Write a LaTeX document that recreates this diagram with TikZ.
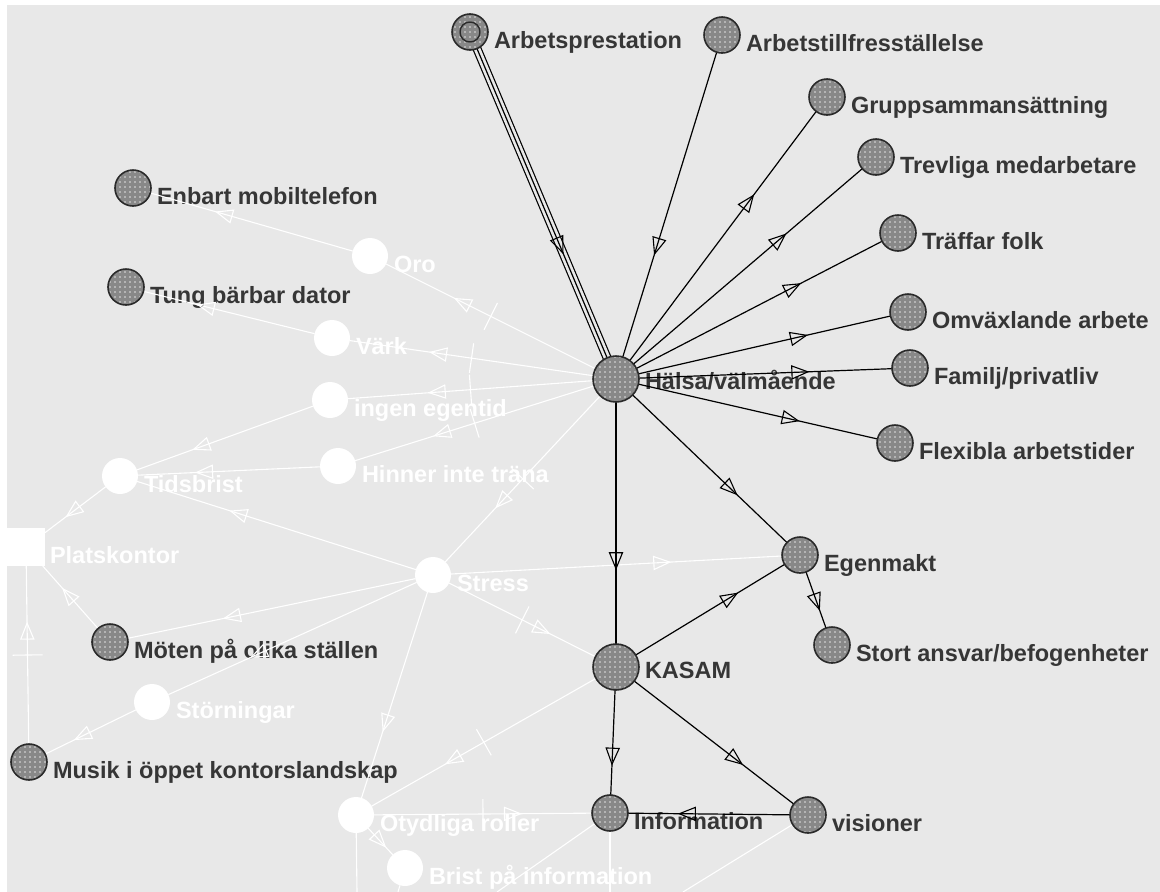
\documentclass[tikz,border=0pt]{standalone}
\usepackage{fontspec}
\setmainfont{Liberation Sans}
\usetikzlibrary{decorations.markings,patterns.meta,calc}
\definecolor{bgc}{HTML}{E8E8E8}
\definecolor{nfill}{HTML}{888888}
\definecolor{ndot}{HTML}{E2E2E2}
\definecolor{nbord}{HTML}{2A2A2A}
\definecolor{tdark}{HTML}{363636}
\pgfdeclarelayer{bglayer}
\pgfdeclarelayer{txtlayer}
\pgfdeclarelayer{edgelayer}
\pgfsetlayers{bglayer,txtlayer,edgelayer,main}
\newcommand\lblfont{\fontsize{23.5}{26}\selectfont\bfseries}
\tikzset{
  dnode/.style={circle, inner sep=0pt, outer sep=0pt, draw=nbord, line width=1.6pt,
    preaction={fill=nfill}, pattern={Dots[distance=5pt, radius=0.8pt]}, pattern color=ndot},
  wnode/.style={circle, inner sep=0pt, outer sep=0pt, fill=white, minimum size=36pt},
  wsquare/.style={rectangle, inner sep=0pt, outer sep=0pt, fill=white, minimum size=38pt},
  dtext/.style={anchor=base west, inner sep=0pt, outer sep=0pt, text=tdark, font=\lblfont},
  wtext/.style={anchor=base west, inner sep=0pt, outer sep=0pt, text=white, font=\lblfont},
  bedge/.style={draw=black, line width=1.2pt},
  wedge/.style={draw=white, line width=1.1pt},
  triple/.style={draw=black, line width=9pt, postaction={draw=bgc, line width=6.6pt},
    postaction={draw=black, line width=1.2pt}},
  barr/.style={postaction={decorate, decoration={markings, mark=at position #1 with
    {\draw[black, line width=1.1pt] (7pt,0pt) -- (-9pt,6.5pt) -- (-9pt,-6.5pt) -- cycle;}}}},
  barr/.default=0.64,
  warr/.style={postaction={decorate, decoration={markings, mark=at position #1 with
    {\draw[white, line width=1.1pt] (7pt,0pt) -- (-9pt,6.5pt) -- (-9pt,-6.5pt) -- cycle;}}}},
  warr/.default=0.64,
  wtk/.style={postaction={decorate, decoration={markings, mark=at position #1 with
    {\draw[white, line width=1.1pt] (0pt,-15pt) -- (0pt,15pt);}}}},
  wtk/.default=0.5,
}
% name, x, y, radius, text, baseline offset
\newcommand\mkdark[6]{%
  \node[dnode, minimum size={2*#4}] (#1) at (#2,#3) {};
  \begin{pgfonlayer}{txtlayer}
    \node[dtext] (#1-t) at ([xshift={#4+6}, yshift={-#6}]#1.center) {#5};
  \end{pgfonlayer}}
% name, x, y, text
\newcommand\mkwhite[4]{%
  \node[wnode] (#1) at (#2,#3) {};
  \begin{pgfonlayer}{txtlayer}
    \node[wtext] (#1-t) at ([xshift=24, yshift=-16.5]#1.center) {#4};
  \end{pgfonlayer}}
\begin{document}
\begin{tikzpicture}[x=1pt, y=-1pt]
\useasboundingbox (0,0) rectangle (1160,892);
\begin{pgfonlayer}{bglayer}
  \fill[white] (0,0) rectangle (1160,892);
  \fill[bgc] (7,5) rectangle (1160,892);
\end{pgfonlayer}

% dark nodes
\mkdark{arbp}{470}{32}{18}{Arbetsprestation}{16.5}
\mkdark{arbt}{722}{35}{18}{Arbetstillfresställelse}{16.5}
\mkdark{grupp}{827}{97}{18}{Gruppsammansättning}{16.5}
\mkdark{trev}{876}{157}{18}{Trevliga medarbetare}{16.5}
\mkdark{traff}{898}{233}{18}{Träffar folk}{16.5}
\mkdark{omv}{908}{312}{18}{Omväxlande arbete}{16.5}
\mkdark{fam}{910}{368}{18}{Familj/privatliv}{16.5}
\mkdark{flex}{895}{443}{18}{Flexibla arbetstider}{16.5}
\mkdark{halsa}{616}{379}{23}{Hälsa/välmående}{10.5}
\mkdark{egen}{800}{555}{18}{Egenmakt}{16.5}
\mkdark{stort}{832}{645}{18}{Stort ansvar/befogenheter}{16.5}
\mkdark{kasam}{616}{667}{23}{KASAM}{11.5}
\mkdark{info}{610}{813}{18}{Information}{16.5}
\mkdark{vis}{808}{815}{18}{visioner}{16.5}
\mkdark{enbart}{133}{188}{18}{Enbart mobiltelefon}{16}
\mkdark{tung}{126}{287}{18}{Tung bärbar dator}{16}
\mkdark{moten}{110}{642}{18}{Möten på olika ställen}{16.5}
\mkdark{musik}{29}{762}{18}{Musik i öppet kontorslandskap}{16.5}
\draw[nbord, line width=1.4pt] (arbp.center) circle[radius=10pt];

% white nodes
\mkwhite{oro}{370}{256}{Oro}
\mkwhite{vark}{332}{338}{Värk}
\mkwhite{ingen}{330}{400}{ingen egentid}
\mkwhite{hinner}{338}{466}{Hinner inte träna}
\mkwhite{tids}{120}{476}{Tidsbrist}
\mkwhite{stress}{433}{575}{Stress}
\mkwhite{storn}{152}{702}{Störningar}
\mkwhite{otyd}{356}{815}{Otydliga roller}
\mkwhite{brist}{405}{868}{Brist på information}
\node[wsquare] (plats) at (26,547) {};
\begin{pgfonlayer}{txtlayer}
  \node[wtext] (plats-t) at (50,563) {Platskontor};
\end{pgfonlayer}

\coordinate (c1) at (357,892);
\coordinate (c2) at (398,892);
\coordinate (c3) at (610,892);
\coordinate (c4) at (497,892);
\coordinate (c5) at (683,892);

\begin{pgfonlayer}{edgelayer}
  % white connectors
  \draw[wedge, warr] (oro) -- (enbart);
  \draw[wedge, warr] (vark) -- (tung);
  \draw[wedge, warr, wtk] (halsa) -- (oro);
  \draw[wedge, warr, wtk] (halsa) -- (vark);
  \draw[wedge, warr, wtk] (halsa) -- (ingen);
  \draw[wedge, warr, wtk] (halsa) -- (hinner);
  \draw[wedge, warr, wtk] (halsa) -- (stress);
  \draw[wedge, warr] (ingen) -- (tids);
  \draw[wedge, warr] (hinner) -- (tids);
  \draw[wedge, warr] (stress) -- (tids);
  \draw[wedge, warr=0.55] (tids) -- (plats);
  \draw[wedge, warr=0.55] (moten) -- (plats);
  \draw[wedge, warr, wtk] (musik) -- (plats);
  \draw[wedge, warr] (stress) -- (moten);
  \draw[wedge, warr] (stress) -- (storn);
  \draw[wedge, warr=0.6] (storn) -- (musik);
  \draw[wedge, warr, wtk] (stress) -- (kasam);
  \draw[wedge, warr] (stress) -- (egen);
  \draw[wedge, warr, wtk] (kasam) -- (otyd);
  \draw[wedge, warr, wtk] (otyd) -- (info);
  \draw[wedge, warr] (stress) -- (otyd);
  \draw[wedge, warr=0.5] (otyd) -- (brist);
  \draw[wedge] (otyd) -- (c1);
  \draw[wedge] (brist) -- (c2);
  \draw[wedge] (info) -- (c3);
  \draw[wedge] (info) -- (c4);
  \draw[wedge] (vis) -- (c5);
  % dark connectors
  \draw[triple, barr] (arbp) -- (halsa);
  \draw[bedge, barr] (arbt) -- (halsa);
  \draw[bedge, barr] (halsa) -- (grupp);
  \draw[bedge, barr] (halsa) -- (trev);
  \draw[bedge, barr] (halsa) -- (traff);
  \draw[bedge, barr] (halsa) -- (omv);
  \draw[bedge, barr] (halsa) -- (fam);
  \draw[bedge, barr] (halsa) -- (flex);
  \draw[bedge, barr] (halsa) -- (egen);
  \draw[bedge, barr=0.66] (halsa) -- (kasam);
  \draw[bedge, barr] (kasam) -- (egen);
  \draw[bedge, barr=0.55] (egen) -- (stort);
  \draw[bedge, barr] (kasam) -- (info);
  \draw[bedge, barr] (kasam) -- (vis);
  \draw[bedge, barr] (vis) -- (info);
\end{pgfonlayer}
\end{tikzpicture}
\end{document}
